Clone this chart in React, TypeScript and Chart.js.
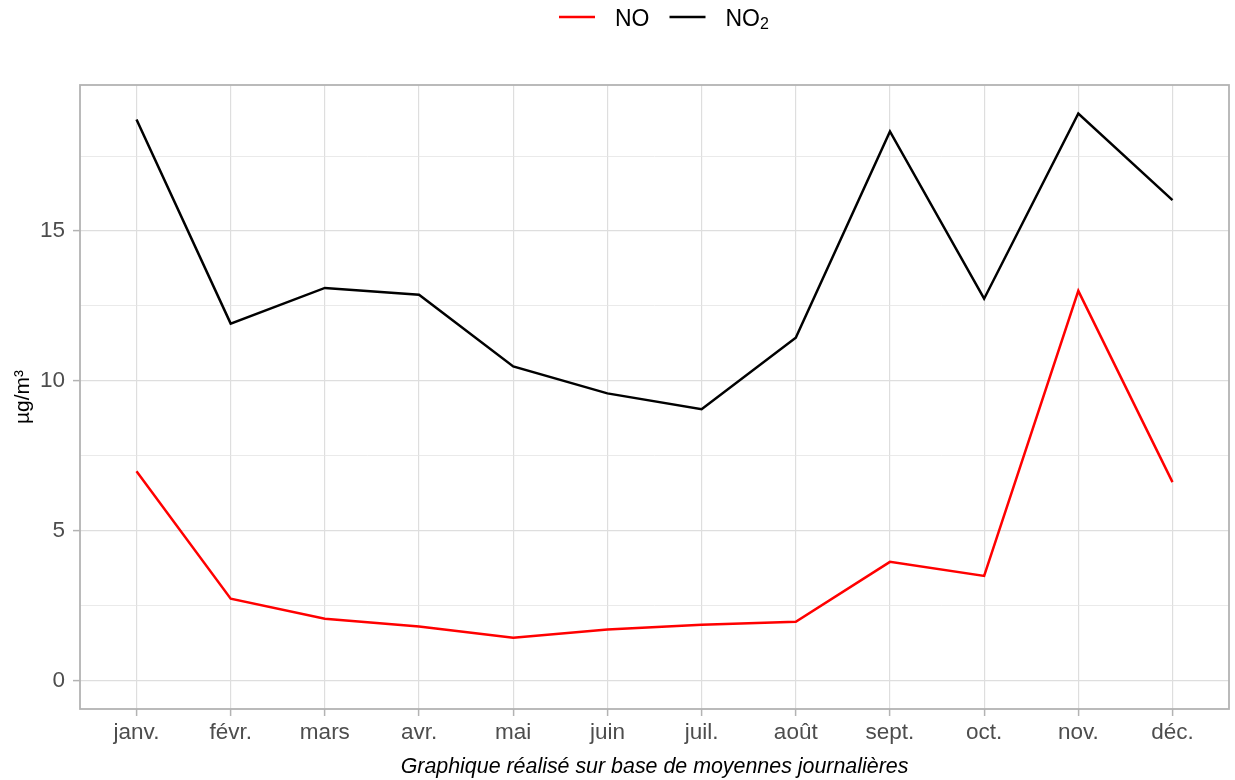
import React, { useEffect, useRef } from 'react';
import { Chart, registerables } from 'chart.js';

Chart.register(...registerables);

const months = ['janv.', 'févr.', 'mars', 'avr.', 'mai', 'juin', 'juil.', 'août', 'sept.', 'oct.', 'nov.', 'déc.'];
const noValues = [6.98, 2.73, 2.06, 1.8, 1.43, 1.7, 1.86, 1.96, 3.96, 3.49, 13.0, 6.62];
const no2Values = [18.72, 11.91, 13.1, 12.87, 10.48, 9.58, 9.05, 11.44, 18.32, 12.74, 18.92, 16.03];
const yTickValues = [0, 2.5, 5, 7.5, 10, 12.5, 15, 17.5];
const yMajorStep = 5;
const yTitle = 'µg/m³';
const xTitle = 'Graphique réalisé sur base de moyennes journalières';

const FONT = '"Liberation Sans", Arial, Helvetica, sans-serif';
const GRID = '#dedede';
const GRID_MINOR = '#e4e4e4';
const BORDER = '#b3b3b3';
const TICK_TEXT = '#4d4d4d';

export default function App() {
  const ref = useRef<HTMLCanvasElement | null>(null);

  useEffect(() => {
    if (!ref.current) return;

    const legendPlugin = {
      id: 'topLegend',
      afterDraw(chart: any) {
        const ctx = chart.ctx as CanvasRenderingContext2D;
        ctx.save();
        const lineY = 17;
        const baseY = 26;
        let x = 559;
        const keyW = 36;
        const gap = 20;
        ctx.textBaseline = 'alphabetic';
        ctx.textAlign = 'left';
        ctx.lineWidth = 2.5;
        // item 1 : NO
        ctx.strokeStyle = '#ff0000';
        ctx.beginPath();
        ctx.moveTo(x, lineY);
        ctx.lineTo(x + keyW, lineY);
        ctx.stroke();
        x += keyW + gap;
        ctx.fillStyle = '#000000';
        ctx.font = `23px ${FONT}`;
        ctx.fillText('NO', x, baseY);
        x += ctx.measureText('NO').width + gap;
        // item 2 : NO2
        ctx.strokeStyle = '#000000';
        ctx.beginPath();
        ctx.moveTo(x, lineY);
        ctx.lineTo(x + keyW, lineY);
        ctx.stroke();
        x += keyW + gap;
        ctx.font = `23px ${FONT}`;
        ctx.fillText('NO', x, baseY);
        x += ctx.measureText('NO').width;
        ctx.font = `16px ${FONT}`;
        ctx.fillText('2', x, baseY + 3);
        ctx.restore();
      },
    };

    const borderPlugin = {
      id: 'panelBorder',
      afterDatasetsDraw(chart: any) {
        const { ctx, chartArea } = chart;
        ctx.save();
        ctx.strokeStyle = BORDER;
        ctx.lineWidth = 1.8;
        ctx.strokeRect(chartArea.left, chartArea.top, chartArea.right - chartArea.left, chartArea.bottom - chartArea.top);
        ctx.restore();
      },
    };

    const chart = new Chart(ref.current, {
      type: 'line',
      data: {
        datasets: [
          {
            label: 'NO',
            data: noValues.map((v, i) => ({ x: i + 1, y: v })),
            borderColor: '#ff0000',
            borderWidth: 2.5,
            pointRadius: 0,
            tension: 0,
            fill: false,
          },
          {
            label: 'NO₂',
            data: no2Values.map((v, i) => ({ x: i + 1, y: v })),
            borderColor: '#000000',
            borderWidth: 2.5,
            pointRadius: 0,
            tension: 0,
            fill: false,
          },
        ],
      },
      options: {
        responsive: false,
        animation: false,
        layout: { padding: { top: 85, right: 6, left: 0, bottom: 0 } },
        plugins: {
          legend: { display: false },
          tooltip: { enabled: false },
        },
        scales: {
          x: {
            type: 'linear',
            min: 0.4,
            max: 12.6,
            afterBuildTicks: (scale: any) => {
              scale.ticks = months.map((_, i) => ({ value: i + 1 }));
            },
            afterFit: (scale: any) => {
              scale.height = 71;
            },
            border: { display: false },
            grid: {
              color: GRID,
              lineWidth: 1.2,
              drawTicks: true,
              tickLength: 7,
              tickColor: BORDER,
              tickWidth: 1.5,
            },
            ticks: {
              autoSkip: false,
              maxRotation: 0,
              padding: 3,
              color: TICK_TEXT,
              font: { family: FONT, size: 22.5 },
              callback: (v: any) => months[Math.round(Number(v)) - 1] ?? '',
            },
            title: {
              display: true,
              text: xTitle,
              color: '#000000',
              font: { family: FONT, size: 21.4, style: 'italic' },
              padding: { top: 0, bottom: 0 },
            },
          },
          y: {
            type: 'linear',
            min: -0.95,
            max: 19.87,
            afterBuildTicks: (scale: any) => {
              scale.ticks = yTickValues.map((v) => ({ value: v }));
            },
            afterFit: (scale: any) => {
              scale.width = 80;
            },
            border: { display: false },
            grid: {
              color: (c: any) => (c.tick && c.tick.value % yMajorStep === 0 ? GRID : GRID_MINOR),
              lineWidth: (c: any) => (c.tick && c.tick.value % yMajorStep === 0 ? 1.2 : 0.8),
              drawTicks: true,
              tickLength: 7,
              tickColor: (c: any) => (c.tick && c.tick.value % yMajorStep === 0 ? BORDER : 'rgba(0,0,0,0)'),
              tickWidth: 1.5,
            },
            ticks: {
              padding: 8,
              color: TICK_TEXT,
              font: { family: FONT, size: 22.5 },
              callback: (v: any) => (Number(v) % yMajorStep === 0 ? String(v) : ''),
            },
            title: {
              display: true,
              text: yTitle,
              color: '#000000',
              font: { family: FONT, size: 21 },
              padding: { top: 11, bottom: 0 },
            },
          },
        },
      },
      plugins: [legendPlugin, borderPlugin],
    } as any);

    return () => chart.destroy();
  }, []);

  return (
    <div style={{ position: 'fixed', left: 0, top: 0, width: 1235, height: 780, background: '#ffffff' }}>
      <canvas ref={ref} width={1235} height={780} style={{ display: 'block' }} />
    </div>
  );
}
